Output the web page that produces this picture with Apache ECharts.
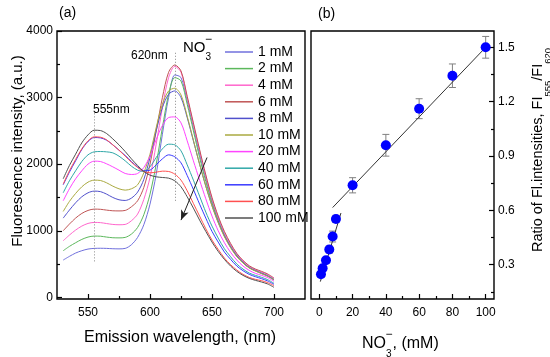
<!DOCTYPE html>
<html><head><meta charset="utf-8">
<script src="https://cdn.jsdelivr.net/npm/echarts@6/dist/echarts.min.js"></script>
<style>html,body{margin:0;padding:0;background:#fff}#c{width:550px;height:357px}</style>
</head><body><div id="c"></div>
<script>
// ---------- Data (panel a) ----------
const wavelengths = [530,535,540,545,550,555,560,565,570,575,580,585,590,595,600,605,610,615,620,625,630,635,640,645,650,655,660,665,670,675,680,685,690,695,700];
const concLabels = ['1 mM','2 mM','4 mM','6 mM','8 mM','10 mM','20 mM','40 mM','60 mM','80 mM','100 mM'];
const fl_1  = [560,615,665,700,725,735,737,735,730,728,735,790,900,1090,1400,1850,2450,3000,3340,3300,2950,2550,2150,1780,1450,1180,950,780,640,530,455,410,370,330,270];
const fl_2  = [700,765,820,870,905,920,918,905,895,893,900,950,1050,1240,1550,2000,2550,3050,3300,3250,2900,2500,2100,1740,1420,1150,930,760,620,520,445,400,360,320,260];
const fl_4  = [850,935,1010,1070,1110,1125,1122,1108,1095,1090,1095,1150,1250,1470,1800,2300,2850,3300,3470,3380,3000,2600,2200,1820,1480,1200,970,790,650,545,465,415,380,340,280];
const fl_6  = [1000,1100,1190,1260,1305,1325,1322,1310,1300,1298,1305,1360,1450,1650,2000,2500,3000,3380,3490,3400,3020,2620,2220,1840,1500,1220,990,810,660,555,475,425,390,350,290];
const fl_8  = [1190,1310,1420,1510,1570,1595,1588,1550,1500,1465,1455,1490,1580,1770,2100,2500,2850,3050,3100,3000,2700,2350,2000,1670,1380,1130,920,755,620,520,445,400,360,320,265];
const fl_10 = [1290,1440,1560,1660,1730,1760,1755,1720,1670,1630,1610,1630,1690,1870,2150,2550,2900,3100,3140,3040,2720,2360,2000,1670,1370,1120,910,745,610,515,440,395,355,315,260];
const fl_20 = [1450,1630,1780,1900,2000,2045,2040,2005,1960,1910,1860,1845,1860,1950,2120,2370,2580,2700,2710,2620,2350,2050,1760,1480,1220,1000,820,675,560,470,405,360,330,295,240];
const fl_40 = [1570,1750,1900,2040,2140,2185,2190,2185,2170,2120,2050,1970,1910,1890,1960,2100,2230,2300,2290,2200,1990,1760,1520,1280,1070,890,730,610,500,425,365,330,300,265,210];
const fl_60 = [1690,1880,2050,2220,2340,2400,2395,2360,2290,2210,2130,2040,1960,1900,1910,1990,2080,2140,2110,2020,1830,1620,1400,1190,990,830,680,570,470,400,345,310,280,245,195];
const fl_80 = [1700,1900,2070,2230,2350,2410,2405,2365,2290,2210,2120,2030,1950,1890,1870,1880,1895,1890,1850,1760,1600,1410,1220,1030,860,720,590,490,410,345,300,270,250,220,175];
const fl_100= [1780,1980,2150,2320,2440,2510,2505,2460,2380,2290,2190,2080,1980,1890,1835,1810,1800,1790,1750,1660,1510,1340,1160,990,830,690,570,470,390,330,285,255,230,200,150];
const spectra = [fl_1,fl_2,fl_4,fl_6,fl_8,fl_10,fl_20,fl_40,fl_60,fl_80,fl_100];
const curveColors = ['#7070dd','#5cb85c','#ff66cc','#c05555','#5050cc','#aaaa40','#ff44ff','#30a8a8','#3a3aff','#ff5050','#505050'];
const xTicksA = [550,600,650,700];
const xMinorA = [575,625,675];
const yTicksA = [0,1000,2000,3000,4000];
const yMinorA = [500,1500,2500,3500];
// annotations (data coordinates)
const guide555 = [[555,540],[555,2780]];
const guide620 = [[620.5,1450],[620.5,3700]];
const arrowA = [[646,2100],[625,1160]];

// ---------- Data (panel b) ----------
const nitrateConc = [1,2,4,6,8,10,20,40,60,80,100];
const ratioVals   = [0.247,0.28,0.324,0.383,0.455,0.552,0.738,0.959,1.161,1.343,1.5];
const ratioErr    = [0.015,0.015,0.015,0.02,0.03,0.02,0.042,0.06,0.055,0.065,0.06];
const fit1 = [[0.6,0.206],[13,0.585]];
const fit2 = [[8,0.615],[100,1.5]];
const xTicksB = [0,20,40,60,80,100];
const xMinorB = [10,30,50,70,90];
const yTicksB = [0.3,0.6,0.9,1.2,1.5];
const yMinorB = [0.15,0.45,0.75,1.05,1.35];

const FONT = 'Liberation Sans, Arial, sans-serif';
const chart = echarts.init(document.getElementById('c'), null, {renderer:'canvas'});

function axisX(grid, min, max, ticks, showLabel){
  return {type:'value', gridIndex:grid, min, max, position:'bottom',
    axisLine:{show:false, onZero:false}, splitLine:{show:false},
    axisTick:{show:true, inside:true, length: showLabel?5:3, customValues: ticks, lineStyle:{color:'#000', width:1.2}},
    axisLabel:{show:showLabel, customValues: ticks, color:'#000', fontSize:12, fontFamily:FONT, margin:8}};
}
function axisY(grid, min, max, ticks, showLabel, pos, dec){
  return {type:'value', gridIndex:grid, min, max, position:pos,
    axisLine:{show:false, onZero:false}, splitLine:{show:false},
    axisTick:{show:true, inside:true, length: showLabel?5:3, customValues: ticks, lineStyle:{color:'#000', width:1.2}},
    axisLabel:{show:showLabel, customValues: ticks, color:'#000', fontSize:12, fontFamily:FONT, margin:4,
      formatter: v => (dec ? v.toFixed(1) : String(v))}};
}

const series = [];
spectra.forEach((arr, i) => {
  series.push({name: concLabels[i], type:'line', xAxisIndex:0, yAxisIndex:0,
    data: wavelengths.map((w,k)=>[w, arr[k]]), smooth:0.3, symbol:'none',
    lineStyle:{color:curveColors[i], width:1}, itemStyle:{color:curveColors[i]}, z:3});
});
// annotations on panel a
series.push({type:'line', xAxisIndex:0, yAxisIndex:0, data:[], silent:true,
  markLine:{silent:true, symbol:'none', animation:false, label:{show:false},
    lineStyle:{color:'#888', type:[1,2], width:1},
    data:[
      [{coord:guide555[0]},{coord:guide555[1]}],
      [{coord:guide620[0]},{coord:guide620[1]}],
      [{coord:arrowA[0], symbol:'none', lineStyle:{color:'#222', type:'solid', width:1}},
       {coord:arrowA[1], symbol:'arrow', symbolSize:[6,10]}]
    ]}});
// panel b
series.push({type:'custom', xAxisIndex:1, yAxisIndex:1, z:2,
  data: nitrateConc.map((c,i)=>[c, ratioVals[i], ratioErr[i]]),
  renderItem:(params, api)=>{
    const x=api.value(0), y=api.value(1), e=api.value(2);
    const t=api.coord([x,y+e]), b=api.coord([x,y-e]); const w=3.5;
    const st={stroke:'#808080', lineWidth:1};
    return {type:'group', children:[
      {type:'line', shape:{x1:t[0],y1:t[1],x2:b[0],y2:b[1]}, style:st},
      {type:'line', shape:{x1:t[0]-w,y1:t[1],x2:t[0]+w,y2:t[1]}, style:st},
      {type:'line', shape:{x1:b[0]-w,y1:b[1],x2:b[0]+w,y2:b[1]}, style:st}]};
  }});
series.push({type:'line', xAxisIndex:1, yAxisIndex:1, data:fit1, symbol:'none', lineStyle:{color:'#333', width:1}, z:3});
series.push({type:'line', xAxisIndex:1, yAxisIndex:1, data:fit2, symbol:'none', lineStyle:{color:'#333', width:1}, z:3});
series.push({type:'scatter', xAxisIndex:1, yAxisIndex:1, data: nitrateConc.map((c,i)=>[c, ratioVals[i]]),
  symbolSize:10, itemStyle:{color:'#0000ff', opacity:1}, z:5});

const gA = {left:57, top:31, width:248, height:268};
const gB = {left:311, top:31, width:183, height:268};
const option = {
  animation:false,
  backgroundColor:'#fff',
  textStyle:{fontFamily:FONT},
  grid:[
    Object.assign({show:true, borderColor:'#000', borderWidth:1.4, backgroundColor:'transparent'}, gA),
    Object.assign({show:true, borderColor:'#000', borderWidth:1.4, backgroundColor:'transparent'}, gB),
    Object.assign({show:false}, gA),
    Object.assign({show:false}, gB)
  ],
  xAxis:[
    axisX(0,525,725,xTicksA,true), axisX(1,-5,105,xTicksB,true),
    axisX(2,525,725,xMinorA,false), axisX(3,-5,105,xMinorB,false)
  ],
  yAxis:[
    axisY(0,-25,4000,yTicksA,true,'left',false), axisY(1,0.11,1.59,yTicksB,true,'right',true),
    axisY(2,-25,4000,yMinorA,false,'left',false), axisY(3,0.11,1.59,yMinorB,false,'right',true)
  ],
  legend:{data:concLabels, orient:'vertical', left:220, top:40, itemWidth:28, itemHeight:1.5, itemGap:2.6, icon:'rect',
    textStyle:{fontSize:14, color:'#000', fontFamily:FONT, lineHeight:14}, selectedMode:false},
  graphic:[
    {type:'text', left:59, top:6, style:{text:'(a)', fontSize:14, fontFamily:FONT, fill:'#000'}},
    {type:'text', left:318, top:7, style:{text:'(b)', fontSize:14, fontFamily:FONT, fill:'#000'}},
    {type:'text', left:93, top:104, style:{text:'555nm', fontSize:12, fontFamily:FONT, fill:'#000'}},
    {type:'text', left:131, top:50, style:{text:'620nm', fontSize:12, fontFamily:FONT, fill:'#000'}},
    {type:'text', left:183, top:34, style:{text:'{a|NO}{s|3}{p|−}', fontFamily:FONT, fill:'#000',
      rich:{a:{fontSize:15, lineHeight:20, verticalAlign:'middle', fontFamily:FONT}, s:{fontSize:10, lineHeight:20, verticalAlign:'bottom', padding:[0,0,-4,0], fontFamily:FONT}, p:{fontSize:12, lineHeight:20, verticalAlign:'top', padding:[-4,0,0,-6], fontFamily:FONT}}}},
    {type:'text', x:180, y:338, style:{text:'Emission wavelength, (nm)', fontSize:16, fontFamily:FONT, fill:'#000', align:'center', verticalAlign:'middle'}},
    {type:'text', left:362, top:329, style:{text:'{a|NO}{s|3}{p|−}{a|, (mM)}', fontFamily:FONT, fill:'#000',
      rich:{a:{fontSize:16, lineHeight:22, verticalAlign:'middle', fontFamily:FONT}, s:{fontSize:10, lineHeight:22, verticalAlign:'bottom', padding:[0,0,-4,0], fontFamily:FONT}, p:{fontSize:12, lineHeight:22, verticalAlign:'top', padding:[-4,0,0,-6], fontFamily:FONT}}}},
    {type:'text', x:18, y:151, rotation:Math.PI/2, style:{text:'Fluorescence intensity, (a.u.)', fontSize:15, fontFamily:FONT, fill:'#000', align:'center', verticalAlign:'middle'}},
    {type:'text', x:538, y:150, rotation:Math.PI/2, style:{text:'{a|Ratio of Fl.intensities, FI}{s|555}{a|/FI}{s|620}', fontFamily:FONT, fill:'#000', align:'center', verticalAlign:'middle',
      rich:{a:{fontSize:14.5, lineHeight:22, verticalAlign:'middle', fontFamily:FONT}, s:{fontSize:9.5, lineHeight:22, verticalAlign:'bottom', padding:[0,0,-4,0], fontFamily:FONT}}}}
  ],
  series
};
chart.setOption(option);
</script></body></html>
